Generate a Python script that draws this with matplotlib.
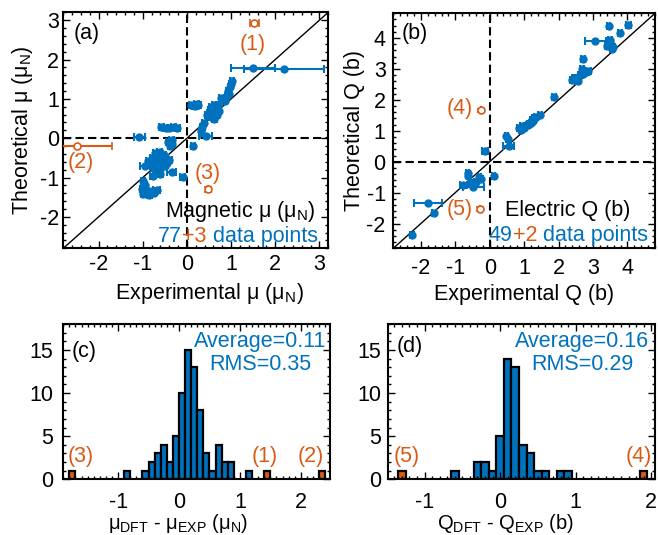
import matplotlib
matplotlib.use("Agg")
import matplotlib.pyplot as plt
from matplotlib.ticker import MultipleLocator
from matplotlib.transforms import offset_copy

plt.rcParams.update({
    "font.family": ["Liberation Sans", "DejaVu Sans"],
    "font.size": 15.5,
    "mathtext.fontset": "custom",
    "mathtext.rm": "Liberation Sans",
    "mathtext.default": "regular",
    "axes.linewidth": 1.5,
    "axes.unicode_minus": False,
})

BLUE = "#0072BD"
ORANGE = "#DA5A14"

# ---- panel (a): magnetic moments (mu_N)
MU_EXP = [1.5, 2.2, 1.02, 1.0, 0.97, 0.92, 0.95, 0.78, 0.85, 0.7,
          0.55, 0.65, 0.6, 0.72, 0.5, 0.58, 0.67, 0.55, 0.62, 0.48,
          0.1, 0.18, 0.26, 0.38, 0.35, 0.42, 0.14, -0.58, -0.48, -0.4,
          -0.3, -0.22, -1.08, -0.42, -0.33, -0.38, -0.72, -0.65, -0.6, -0.78,
          -0.7, -0.55, -0.48, -0.82, -0.68, -0.58, -0.45, -0.95, -0.75, -0.62,
          -0.5, -0.7, -0.35, -0.1, -1.0, -0.95, -1.02, -0.9, -1.0, -0.8,
          -0.68, -0.85, 0.52, 0.62, 0.45, 0.9, -0.62, -0.52, -0.88, -0.4,
          -0.78, -0.6, -0.95, -0.75, 0.32, 0.22, -0.35]
MU_THEO = [1.78, 1.75, 1.45, 1.38, 1.3, 1.2, 1.12, 1.02, 0.95, 0.85,
           0.8, 0.78, 0.72, 0.7, 0.65, 0.62, 0.6, 0.55, 0.5, 0.58,
           0.85, 0.83, 0.84, 0.38, 0.28, 0.05, -0.2, 0.28, 0.25, 0.27,
           0.28, 0.25, 0.04, -0.1, -0.14, -0.2, -0.38, -0.42, -0.48, -0.5,
           -0.55, -0.55, -0.5, -0.62, -0.65, -0.68, -0.62, -0.7, -0.75, -0.78,
           -0.72, -0.85, -0.85, -0.98, -1.1, -1.2, -1.28, -1.35, -1.42, -1.35,
           -1.32, -1.45, 0.72, 0.85, 0.6, 1.08, -0.35, -0.42, -0.58, -0.55,
           -0.95, -0.9, -1.3, -1.4, 0.18, 0.86, -0.05]
MU_XERR = [0.5, 0.9, 0.04, 0.04, 0.04, 0.04, 0.04, 0.05, 0.04, 0.05,
           0.05, 0.05, 0.05, 0.05, 0.05, 0.05, 0.05, 0.05, 0.05, 0.05,
           0.06, 0.06, 0.06, 0.05, 0.05, 0.15, 0.05, 0.06, 0.06, 0.06,
           0.06, 0.06, 0.13, 0.06, 0.06, 0.06, 0.05, 0.05, 0.05, 0.05,
           0.05, 0.05, 0.05, 0.05, 0.05, 0.05, 0.05, 0.12, 0.05, 0.05,
           0.05, 0.05, 0.1, 0.05, 0.05, 0.05, 0.05, 0.05, 0.05, 0.08,
           0.08, 0.05, 0.05, 0.05, 0.05, 0.04, 0.05, 0.05, 0.05, 0.05,
           0.05, 0.05, 0.05, 0.05, 0.05, 0.06, 0.05]
MU_OUT_EXP = [1.52, -2.5, 0.48]
MU_OUT_THEO = [2.92, -0.21, -1.3]
MU_OUT_XERR = [0.1, 0.8, 0.0]
MU_OUT_YERR = [0.0, 0.0, 0.07]
MU_OUT_LABELS = ["(1)", "(2)", "(3)"]
MU_OUT_LABEL_X = [1.49, -2.4, 0.475]
MU_OUT_LABEL_Y = [2.39, -0.61, -0.89]

# ---- panel (b): quadrupole moments (b)
Q_EXP = [-2.25, -1.8, -1.63, -0.64, -0.62, -0.77, -0.48, -0.55, -0.4, -0.3,
         -0.25, -0.14, 0.12, 0.48, 0.52, 0.55, 0.86, 0.92, 1.0, 1.1,
         1.2, 1.25, 1.3, 1.35, 1.45, 1.22, 1.87, 2.4, 2.5, 2.55,
         2.62, 2.7, 2.75, 2.8, 2.68, 2.71, 3.07, 3.4, 3.5, 3.58,
         3.5, 3.45, 3.79, 4.03, 2.85, 1.15, 0.95, 3.55, 2.45]
Q_THEO = [-2.36, -1.33, -1.66, -0.36, -0.45, -0.75, -0.82, -0.7, -0.64, -0.48,
          -0.55, 0.35, -0.45, 0.82, 0.75, 0.51, 1.08, 1.02, 1.1, 1.18,
          1.25, 1.32, 1.4, 1.45, 1.5, 1.35, 2.08, 2.65, 2.7, 2.62,
          2.8, 2.85, 2.95, 2.9, 3.0, 3.32, 3.92, 3.75, 3.85, 3.72,
          3.95, 4.38, 4.16, 4.43, 2.95, 1.22, 1.15, 3.65, 2.7]
Q_XERR = [0.06, 0.4, 0.06, 0.04, 0.04, 0.1, 0.3, 0.05, 0.05, 0.05,
          0.05, 0.08, 0.04, 0.05, 0.05, 0.15, 0.06, 0.06, 0.06, 0.06,
          0.06, 0.06, 0.06, 0.06, 0.06, 0.06, 0.05, 0.06, 0.06, 0.06,
          0.06, 0.06, 0.06, 0.08, 0.06, 0.05, 0.3, 0.06, 0.06, 0.06,
          0.06, 0.05, 0.05, 0.06, 0.1, 0.06, 0.06, 0.06, 0.06]
Q_OUT_EXP = [-0.24, -0.27]
Q_OUT_THEO = [1.66, -1.54]
Q_OUT_YERR = [0.06, 0.06]
Q_OUT_LABELS = ["(4)", "(5)"]
Q_OUT_LABEL_X = [-0.48, -0.5]
Q_OUT_LABEL_Y = [1.73, -1.54]

# ---- panel (c): histogram of mu_DFT - mu_EXP (bin width 0.1)
C_CENTERS = [-0.85, -0.55, -0.45, -0.35, -0.25, -0.15, -0.05, 0.05, 0.15, 0.25,
             0.35, 0.45, 0.55, 0.65, 0.75, 0.85, 1.15]
C_COUNTS = [1, 1, 2, 3, 4, 2, 5, 10, 15, 13, 8, 3, 1, 4, 2, 2, 1]
C_OUT_CENTERS = [-1.75, 1.45, 2.35]
C_OUT_COUNTS = [1, 1, 1]
C_OUT_LABELS = ["(3)", "(1)", "(2)"]
C_OUT_LABEL_X = [-1.62, 1.41, 2.16]

# ---- panel (d): histogram of Q_DFT - Q_EXP (bin width 0.1)
D_CENTERS = [-0.6, -0.3, -0.2, -0.1, 0.0, 0.1, 0.2, 0.3, 0.4, 0.5, 0.6, 0.8, 0.9]
D_COUNTS = [1, 2, 2, 1, 5, 14, 13, 4, 3, 1, 1, 1, 1]
D_OUT_CENTERS = [-1.3, 1.9]
D_OUT_COUNTS = [1, 1]
D_OUT_LABELS = ["(5)", "(4)"]
D_OUT_LABEL_X = [-1.24, 1.83]

W, H = 658, 535


def px_axes(fig, l, t, r, b):
    return fig.add_axes([l / W, 1 - b / H, (r - l) / W, (b - t) / H])


def style(ax, xmaj, xmin, ymaj, ymin, xpad, ypad):
    ax.xaxis.set_major_locator(MultipleLocator(xmaj))
    ax.xaxis.set_minor_locator(MultipleLocator(xmin))
    ax.yaxis.set_major_locator(MultipleLocator(ymaj))
    ax.yaxis.set_minor_locator(MultipleLocator(ymin))
    ax.tick_params(which="both", direction="in", top=True, right=True, width=1)
    ax.tick_params(which="major", length=5)
    ax.tick_params(which="minor", length=2.5)
    ax.tick_params(axis="x", pad=xpad)
    ax.tick_params(axis="y", pad=ypad)


def colored_text(ax, x, y, parts, renderer):
    # right-aligned run of differently coloured pieces
    trans = ax.transData
    for s, c in reversed(parts):
        t = ax.text(x, y, s, color=c, ha="right", va="baseline", transform=trans)
        bb = t.get_window_extent(renderer)
        trans = offset_copy(trans, fig=ax.figure, x=-bb.width, units="dots")


def scatter_panel(ax, lim, xs, ys, xerr, oxs, oys, oxerr, oyerr):
    ax.axline((0, 0), slope=1, color="k", lw=1)
    ax.axhline(0, color="k", lw=1.5, ls=(0, (4, 2)))
    ax.axvline(0, color="k", lw=1.5, ls=(0, (4, 2)))
    ax.errorbar(xs, ys, xerr=xerr, fmt="o", color=BLUE, ms=5,
                elinewidth=1.5, capsize=3, capthick=1.5, zorder=3)
    ax.errorbar(oxs, oys, xerr=oxerr, yerr=oyerr, fmt="o", color=ORANGE,
                mfc="white", mec=ORANGE, ms=5, mew=1.2,
                elinewidth=1.5, capsize=3, capthick=1.5, zorder=3)
    ax.set_xlim(lim)
    ax.set_ylim(lim)


def hist_panel(ax, xlim, centers, counts, ocenters, ocounts):
    ax.bar(centers, counts, width=0.1, color=BLUE, edgecolor="k", lw=1.6)
    ax.bar(ocenters, ocounts, width=0.1, color=ORANGE, edgecolor="k", lw=1.6)
    ax.set_xlim(xlim)
    ax.set_ylim(0, 18)


fig = plt.figure(figsize=(W / 100, H / 100), dpi=100)
renderer = fig.canvas.get_renderer()

# (a)
ax = px_axes(fig, 63.3, 12.3, 328.3, 248.3)
scatter_panel(ax, (-2.8, 3.2), MU_EXP, MU_THEO, MU_XERR,
              MU_OUT_EXP, MU_OUT_THEO, MU_OUT_XERR, MU_OUT_YERR)
style(ax, 1, 0.2, 1, 0.2, 4, 3)
ax.set_xticks([-2, -1, 0, 1, 2, 3])
for lab, x, y in zip(MU_OUT_LABELS, MU_OUT_LABEL_X, MU_OUT_LABEL_Y):
    ax.text(x, y, lab, color=ORANGE, ha="center", va="center")
ax.text(0.04, 0.912, "(a)", transform=ax.transAxes, va="center")
ax.text(2.9, -2.0, "Magnetic μ (μ$_N$)", ha="right", va="baseline")
colored_text(ax, 2.96, -2.65, [("77", BLUE), ("+3", ORANGE), (" data points", BLUE)], renderer)
ax.set_xlabel("Experimental μ (μ$_N$)")
ax.set_ylabel("Theoretical μ (μ$_N$)")
ax.xaxis.set_label_coords(0.55, -0.14)
ax.yaxis.set_label_coords(-0.105, 0.5)

# (b)
ax = px_axes(fig, 393.3, 13.3, 655, 248.3)
scatter_panel(ax, (-2.8, 4.8), Q_EXP, Q_THEO, Q_XERR,
              Q_OUT_EXP, Q_OUT_THEO, 0, Q_OUT_YERR)
style(ax, 1, 0.2, 1, 0.2, 7, 5.5)
ax.set_xticks([-2, -1, 0, 1, 2, 3, 4])
for lab, x, y in zip(Q_OUT_LABELS, Q_OUT_LABEL_X, Q_OUT_LABEL_Y):
    ax.text(x, y, lab, color=ORANGE, ha="right", va="center")
ax.text(0.032, 0.916, "(b)", transform=ax.transAxes, va="center")
ax.text(4.08, -1.74, "Electric Q (b)", ha="right", va="baseline")
colored_text(ax, 4.6, -2.57, [("49", BLUE), ("+2", ORANGE), (" data points", BLUE)], renderer)
ax.set_xlabel("Experimental Q (b)")
ax.set_ylabel("Theoretical Q (b)")
ax.xaxis.set_label_coords(0.5, -0.15)
ax.yaxis.set_label_coords(-0.11, 0.5)

# (c)
ax = px_axes(fig, 63.3, 324, 330, 479.3)
hist_panel(ax, (-1.9, 2.48), C_CENTERS, C_COUNTS, C_OUT_CENTERS, C_OUT_COUNTS)
style(ax, 1, 0.1, 5, 1, 9, 7.5)
for lab, x in zip(C_OUT_LABELS, C_OUT_LABEL_X):
    ax.text(x, 2.62, lab, color=ORANGE, ha="center", va="center")
ax.text(0.031, 0.822, "(c)", transform=ax.transAxes, va="center")
ax.text(1.33, 16.0, "Average=0.11", color=BLUE, ha="center", va="center")
ax.text(1.33, 13.3, "RMS=0.35", color=BLUE, ha="center", va="center")
ax.set_xlabel("μ$_{DFT}$ - μ$_{EXP}$ (μ$_N$)", fontsize=14.5)
ax.xaxis.set_label_coords(0.43, -0.21)

# (d)
ax = px_axes(fig, 388.3, 324, 655, 479.3)
hist_panel(ax, (-1.48, 2.05), D_CENTERS, D_COUNTS, D_OUT_CENTERS, D_OUT_COUNTS)
style(ax, 1, 0.1, 5, 1, 9, 5)
for lab, x in zip(D_OUT_LABELS, D_OUT_LABEL_X):
    ax.text(x, 2.62, lab, color=ORANGE, ha="center", va="center")
ax.text(0.031, 0.854, "(d)", transform=ax.transAxes, va="center")
ax.text(1.09, 16.0, "Average=0.16", color=BLUE, ha="center", va="center")
ax.text(1.09, 13.3, "RMS=0.29", color=BLUE, ha="center", va="center")
ax.set_xlabel("Q$_{DFT}$ - Q$_{EXP}$ (b)", fontsize=14.5)
ax.xaxis.set_label_coords(0.44, -0.21)

fig.savefig("out.png", dpi=100)
